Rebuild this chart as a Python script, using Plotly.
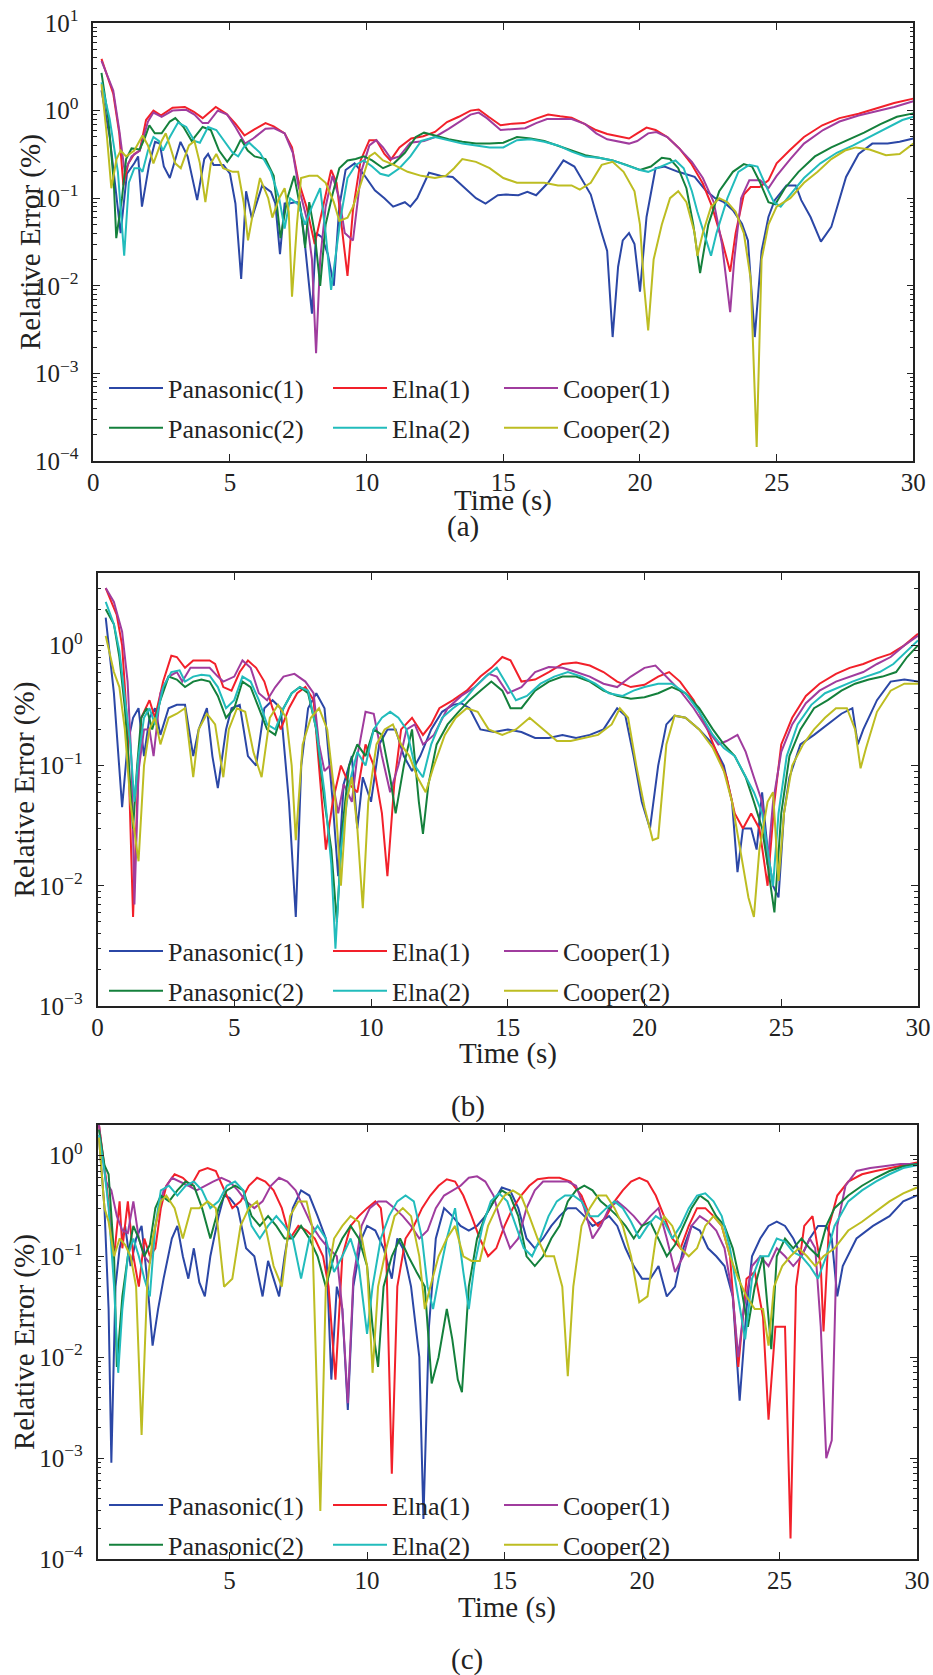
import math
import plotly.graph_objects as go

# ---------------- series data: time (s) and relative error (%) ----------------
# Panel (a)
a_t_pan1 = [0.3,0.6,1.0,1.23,1.5,1.64,1.78,2.04,2.26,2.43,2.58,2.8,3.19,3.45,3.8,4.06,4.2,4.4,4.76,5.0,5.2,5.41,5.59,5.8,6.18,6.5,6.66,6.83,7.0,7.16,7.38,7.55,7.7,8.0,8.15,8.36,8.58,8.8,9.0,9.23,9.56,9.88,10.3,10.65,10.97,11.4,11.6,11.85,12.28,12.7,13.15,13.6,14.0,14.35,14.8,15.1,15.55,15.88,16.2,16.64,17.2,17.6,18.2,18.6,18.8,19.0,19.2,19.37,19.6,19.8,20.0,20.24,20.57,20.9,21.4,22.0,22.4,22.75,23.07,23.4,23.73,23.95,24.2,24.45,24.7,24.93,25.36,25.7,25.9,26.24,26.62,27.0,27.54,28.0,28.5,29.06,29.5,30.0]
a_v_pan1 = [1.7,0.5,0.04,0.19,0.25,0.3,0.08,0.24,0.44,0.42,0.23,0.17,0.44,0.3,0.095,0.28,0.32,0.24,0.24,0.19,0.087,0.012,0.12,0.059,0.14,0.118,0.087,0.023,0.087,0.087,0.09,0.09,0.04,0.0048,0.04,0.036,0.023,0.010,0.08,0.21,0.25,0.19,0.123,0.1,0.08,0.09,0.08,0.1,0.195,0.18,0.175,0.13,0.1,0.087,0.108,0.11,0.108,0.118,0.108,0.15,0.27,0.23,0.11,0.04,0.025,0.0026,0.0165,0.033,0.04,0.030,0.0086,0.061,0.22,0.23,0.2,0.175,0.123,0.1,0.09,0.073,0.051,0.033,0.0026,0.025,0.061,0.095,0.14,0.14,0.095,0.061,0.032,0.047,0.175,0.32,0.42,0.42,0.44,0.48]
a_t_elna1 = [0.3,0.73,0.95,1.1,1.28,1.5,1.7,1.93,2.2,2.47,2.9,3.35,3.68,4.0,4.48,4.87,5.2,5.53,5.85,6.3,6.6,7.0,7.27,7.5,7.8,8.1,8.35,8.7,8.9,9.1,9.3,9.5,9.78,10.1,10.36,10.65,10.87,11.2,11.63,12.07,12.5,12.94,13.37,13.8,14.1,14.46,14.9,15.33,15.77,16.2,16.64,17.08,17.5,17.95,18.39,18.8,19.26,19.6,19.9,20.24,20.57,21.0,21.44,21.87,22.3,22.64,23.0,23.3,23.5,23.8,24.05,24.38,24.7,25.0,25.47,26.0,26.67,27.3,28.0,28.6,29.3,30.0]
a_v_elna1 = [3.9,1.56,0.55,0.14,0.25,0.32,0.35,0.78,1.0,0.88,1.08,1.1,0.97,0.82,1.1,0.92,0.71,0.52,0.6,0.72,0.66,0.55,0.38,0.16,0.08,0.03,0.067,0.21,0.15,0.043,0.013,0.073,0.27,0.46,0.46,0.32,0.27,0.38,0.48,0.51,0.57,0.74,0.85,1.0,1.03,0.85,0.68,0.71,0.72,0.81,0.9,0.86,0.83,0.71,0.6,0.54,0.51,0.48,0.55,0.64,0.6,0.5,0.37,0.25,0.147,0.08,0.033,0.0145,0.04,0.11,0.134,0.134,0.16,0.25,0.35,0.5,0.68,0.82,0.92,1.05,1.22,1.37]
a_t_coop1 = [0.3,0.73,0.95,1.15,1.4,1.7,2.0,2.2,2.5,2.9,3.4,3.7,4.0,4.2,4.55,4.9,5.2,5.55,5.85,6.3,6.6,7.0,7.3,7.5,7.8,8.0,8.15,8.3,8.5,8.75,9.0,9.2,9.5,9.8,10.1,10.35,10.6,10.9,11.2,11.6,12.1,12.5,13.0,13.4,13.8,14.1,14.4,14.9,15.3,15.8,16.2,16.6,17.1,17.5,18.0,18.4,18.8,19.3,19.6,19.9,20.3,20.6,21.0,21.4,21.9,22.3,22.7,23.0,23.3,23.45,23.7,24.0,24.4,24.7,25.0,25.5,26.0,26.7,27.3,28.0,28.6,29.3,30.0]
a_v_coop1 = [3.7,1.7,0.6,0.2,0.3,0.35,0.75,0.95,0.85,1.0,1.02,0.9,0.72,0.72,1.0,0.9,0.65,0.42,0.48,0.62,0.63,0.55,0.33,0.14,0.06,0.02,0.0017,0.02,0.08,0.18,0.1,0.04,0.033,0.2,0.4,0.46,0.38,0.28,0.3,0.43,0.45,0.5,0.62,0.75,0.9,0.95,0.82,0.6,0.61,0.63,0.72,0.8,0.8,0.8,0.7,0.55,0.47,0.44,0.42,0.45,0.55,0.57,0.5,0.38,0.26,0.17,0.09,0.03,0.005,0.02,0.1,0.16,0.16,0.13,0.18,0.28,0.42,0.6,0.75,0.88,0.97,1.1,1.28]
a_t_pan2 = [0.3,0.55,0.75,0.84,1.05,1.2,1.4,1.7,1.9,2.05,2.25,2.5,2.8,3.0,3.3,3.6,4.0,4.3,4.6,4.9,5.2,5.4,5.65,5.9,6.3,6.6,6.85,7.1,7.35,7.6,7.75,7.9,8.1,8.3,8.5,8.75,9.0,9.3,9.6,9.9,10.2,10.6,11.0,11.4,11.8,12.1,12.5,13.0,13.5,14.0,14.5,15.0,15.5,16.0,16.5,17.0,17.5,18.0,18.5,19.0,19.5,20.0,20.4,20.8,21.1,21.4,21.7,21.95,22.2,22.5,22.9,23.4,23.8,24.1,24.4,24.7,24.95,25.3,25.8,26.4,27.0,27.6,28.2,28.8,29.4,30.0]
a_v_pan2 = [2.7,0.8,0.15,0.035,0.1,0.28,0.37,0.36,0.5,0.68,0.55,0.55,0.75,0.82,0.65,0.45,0.65,0.6,0.35,0.26,0.35,0.47,0.35,0.3,0.28,0.18,0.035,0.1,0.18,0.07,0.027,0.09,0.04,0.01,0.05,0.11,0.22,0.27,0.28,0.3,0.27,0.22,0.25,0.33,0.5,0.56,0.52,0.47,0.44,0.42,0.42,0.43,0.5,0.48,0.45,0.4,0.35,0.31,0.29,0.27,0.24,0.21,0.23,0.29,0.28,0.22,0.13,0.05,0.014,0.05,0.12,0.2,0.245,0.23,0.15,0.09,0.085,0.13,0.2,0.3,0.38,0.46,0.56,0.7,0.85,0.93]
a_t_elna2 = [0.3,0.6,0.9,1.13,1.3,1.5,1.7,1.8,2.0,2.2,2.4,2.55,2.8,3.1,3.4,3.7,3.9,4.2,4.5,4.8,5.1,5.3,5.5,5.7,6.1,6.5,6.8,7.0,7.2,7.5,7.75,8.0,8.3,8.5,8.7,9.05,9.3,9.6,9.9,10.2,10.5,10.8,11.2,11.6,12.0,12.5,13.0,13.5,14.0,14.5,15.0,15.5,16.0,16.5,17.0,17.5,18.0,18.5,19.0,19.5,20.0,20.3,20.8,21.3,21.6,21.9,22.1,22.6,22.8,23.2,23.6,24.0,24.3,24.6,24.9,25.15,25.5,26.0,26.6,27.2,27.8,28.4,29.0,29.6,30.0]
a_v_elna2 = [2.1,0.8,0.2,0.022,0.15,0.22,0.22,0.2,0.35,0.5,0.45,0.35,0.5,0.73,0.65,0.45,0.43,0.65,0.6,0.45,0.33,0.3,0.38,0.43,0.33,0.2,0.1,0.045,0.1,0.085,0.05,0.08,0.13,0.04,0.009,0.06,0.17,0.24,0.27,0.23,0.19,0.18,0.22,0.3,0.45,0.5,0.46,0.42,0.4,0.38,0.38,0.46,0.47,0.44,0.4,0.34,0.3,0.29,0.27,0.24,0.21,0.2,0.23,0.27,0.22,0.12,0.07,0.022,0.04,0.1,0.2,0.24,0.23,0.14,0.09,0.08,0.11,0.17,0.25,0.33,0.4,0.5,0.62,0.78,0.85]
a_t_coop2 = [0.3,0.5,0.66,0.85,1.0,1.2,1.5,1.8,2.0,2.2,2.5,2.65,2.8,3.0,3.2,3.5,3.7,3.9,4.1,4.3,4.5,4.75,5.1,5.3,5.5,5.66,5.85,6.1,6.4,6.55,6.8,7.0,7.15,7.27,7.45,7.6,7.9,8.2,8.5,8.8,9.0,9.3,9.5,9.8,10.1,10.3,10.6,11.0,11.5,12.0,12.5,12.9,13.2,13.5,14.0,14.5,15.0,15.5,16.0,16.5,17.0,17.5,17.8,18.2,18.6,19.0,19.4,19.8,20.0,20.15,20.3,20.5,20.8,21.1,21.4,21.7,22.0,22.1,22.3,22.6,22.9,23.2,23.5,23.8,24.05,24.27,24.45,24.7,25.0,25.5,26.0,26.5,27.0,27.5,27.9,28.4,29.0,29.5,30.0]
a_v_coop2 = [2.0,0.5,0.13,0.28,0.35,0.3,0.35,0.52,0.4,0.25,0.45,0.55,0.4,0.25,0.22,0.4,0.45,0.25,0.09,0.25,0.32,0.22,0.2,0.2,0.09,0.033,0.07,0.17,0.1,0.06,0.1,0.13,0.07,0.0075,0.05,0.17,0.18,0.18,0.15,0.09,0.055,0.06,0.08,0.15,0.3,0.33,0.27,0.24,0.2,0.18,0.17,0.18,0.22,0.28,0.26,0.22,0.17,0.15,0.15,0.15,0.14,0.14,0.125,0.15,0.24,0.26,0.2,0.12,0.05,0.01,0.0031,0.02,0.05,0.1,0.12,0.09,0.04,0.022,0.04,0.08,0.1,0.09,0.07,0.04,0.012,0.000145,0.02,0.05,0.08,0.1,0.15,0.2,0.28,0.35,0.38,0.36,0.31,0.32,0.42]

# Panel (b)
b_t_pan1 = [0.3,0.6,0.9,1.1,1.3,1.5,1.7,1.9,2.1,2.3,2.6,2.9,3.2,3.5,3.7,4.0,4.2,4.4,4.7,4.9,5.2,5.5,5.8,6.1,6.4,6.7,7.0,7.25,7.45,7.7,8.0,8.3,8.6,8.8,9.0,9.3,9.5,9.7,10.0,10.3,10.6,10.9,11.2,11.5,11.8,12.2,12.6,13.0,13.3,13.6,14.0,14.5,15.0,15.5,16.0,16.5,17.0,17.5,18.0,18.5,19.0,19.3,19.6,19.9,20.2,20.5,20.8,21.1,21.5,22.0,22.5,22.9,23.2,23.4,23.6,23.9,24.1,24.3,24.5,24.7,24.9,25.1,25.3,25.7,26.2,26.7,27.2,27.6,27.8,28.0,28.5,29.0,29.5,30.0]
b_v_pan1 = [1.7,0.4,0.045,0.15,0.25,0.3,0.12,0.25,0.3,0.18,0.3,0.32,0.32,0.12,0.2,0.3,0.12,0.065,0.2,0.3,0.32,0.12,0.1,0.3,0.35,0.3,0.05,0.0055,0.1,0.3,0.4,0.3,0.05,0.012,0.07,0.12,0.03,0.08,0.05,0.15,0.2,0.2,0.12,0.09,0.12,0.2,0.28,0.32,0.33,0.3,0.2,0.19,0.2,0.19,0.17,0.17,0.18,0.17,0.18,0.2,0.3,0.26,0.12,0.05,0.03,0.1,0.22,0.26,0.25,0.2,0.15,0.1,0.05,0.013,0.03,0.03,0.02,0.06,0.02,0.01,0.008,0.04,0.08,0.15,0.18,0.22,0.27,0.3,0.15,0.2,0.35,0.5,0.52,0.5]
b_t_elna1 = [0.3,0.7,0.9,1.1,1.3,1.45,1.6,1.9,2.1,2.4,2.7,2.9,3.2,3.5,3.8,4.1,4.3,4.6,4.9,5.2,5.5,5.8,6.1,6.4,6.7,7.0,7.3,7.6,7.9,8.1,8.35,8.6,8.9,9.2,9.5,9.8,10.1,10.4,10.6,10.85,11.1,11.5,11.9,12.2,12.5,13.0,13.5,14.0,14.4,14.8,15.1,15.5,16.0,16.5,17.0,17.5,18.0,18.5,19.0,19.5,20.0,20.5,20.9,21.3,21.8,22.3,22.7,23.0,23.3,23.6,23.9,24.2,24.5,24.75,25.0,25.4,25.9,26.4,27.0,27.5,28.0,28.5,29.0,29.5,30.0]
b_v_elna1 = [3.0,1.8,1.0,0.2,0.0055,0.05,0.25,0.35,0.25,0.5,0.82,0.8,0.65,0.75,0.75,0.75,0.7,0.45,0.42,0.6,0.75,0.65,0.5,0.3,0.2,0.3,0.4,0.45,0.35,0.1,0.02,0.05,0.1,0.07,0.06,0.15,0.1,0.04,0.012,0.07,0.2,0.25,0.18,0.22,0.3,0.35,0.42,0.55,0.65,0.8,0.75,0.5,0.52,0.6,0.7,0.72,0.68,0.6,0.5,0.45,0.47,0.55,0.6,0.5,0.35,0.2,0.12,0.08,0.04,0.03,0.04,0.03,0.01,0.05,0.15,0.25,0.38,0.48,0.58,0.65,0.7,0.78,0.85,1.0,1.25]
b_t_coop1 = [0.3,0.6,0.9,1.1,1.25,1.35,1.5,1.7,1.9,2.05,2.3,2.6,2.9,3.1,3.4,3.8,4.1,4.4,4.6,5.0,5.3,5.6,5.9,6.2,6.5,6.8,7.2,7.6,7.9,8.1,8.3,8.5,8.8,9.0,9.3,9.5,9.8,10.1,10.4,10.7,11.0,11.3,11.6,11.9,12.3,12.8,13.3,13.8,14.3,14.6,15.0,15.5,16.0,16.5,17.0,17.5,18.0,18.5,19.0,19.5,20.0,20.4,20.8,21.3,21.8,22.3,22.7,23.0,23.4,23.7,24.0,24.3,24.5,24.7,25.0,25.4,25.9,26.4,27.0,27.5,28.0,28.5,29.0,29.5,30.0]
b_v_coop1 = [3.0,2.3,1.3,0.5,0.1,0.007,0.09,0.2,0.2,0.12,0.4,0.55,0.6,0.5,0.65,0.65,0.65,0.55,0.5,0.55,0.75,0.65,0.4,0.35,0.45,0.55,0.58,0.5,0.4,0.15,0.09,0.1,0.04,0.07,0.05,0.12,0.28,0.27,0.12,0.06,0.1,0.2,0.22,0.15,0.18,0.3,0.38,0.45,0.58,0.55,0.4,0.45,0.6,0.66,0.65,0.6,0.55,0.48,0.45,0.55,0.65,0.68,0.55,0.42,0.3,0.2,0.15,0.16,0.18,0.13,0.08,0.05,0.015,0.05,0.13,0.22,0.33,0.42,0.5,0.55,0.6,0.7,0.8,1.0,1.2]
b_t_pan2 = [0.3,0.6,0.8,1.0,1.15,1.3,1.45,1.6,1.8,2.0,2.3,2.6,2.9,3.2,3.5,3.8,4.1,4.4,4.7,5.0,5.3,5.6,5.9,6.2,6.5,6.8,7.1,7.4,7.7,8.0,8.3,8.55,8.75,8.95,9.2,9.5,9.8,10.1,10.4,10.7,10.9,11.2,11.5,11.75,11.9,12.1,12.4,12.8,13.2,13.6,14.0,14.4,14.8,15.1,15.5,16.0,16.5,17.0,17.5,18.0,18.5,19.0,19.5,20.0,20.5,21.0,21.5,22.0,22.5,22.9,23.3,23.7,24.0,24.3,24.5,24.75,25.0,25.3,25.7,26.2,26.7,27.2,27.7,28.2,28.7,29.2,29.6,30.0]
b_v_pan2 = [2.0,1.5,0.8,0.3,0.1,0.03,0.1,0.25,0.3,0.2,0.35,0.55,0.52,0.45,0.5,0.52,0.5,0.38,0.25,0.3,0.5,0.45,0.3,0.2,0.18,0.3,0.4,0.45,0.4,0.2,0.05,0.02,0.005,0.03,0.1,0.15,0.12,0.2,0.18,0.08,0.04,0.1,0.2,0.05,0.027,0.07,0.15,0.22,0.28,0.35,0.42,0.5,0.42,0.3,0.3,0.42,0.5,0.55,0.55,0.5,0.42,0.38,0.36,0.37,0.4,0.45,0.4,0.3,0.2,0.15,0.12,0.08,0.05,0.03,0.015,0.006,0.04,0.12,0.2,0.3,0.35,0.42,0.48,0.52,0.55,0.6,0.8,1.0]
b_t_elna2 = [0.3,0.6,0.8,1.0,1.2,1.35,1.5,1.7,1.9,2.1,2.4,2.7,3.0,3.2,3.5,3.8,4.1,4.4,4.7,5.0,5.3,5.6,5.9,6.2,6.5,6.8,7.1,7.4,7.7,8.0,8.3,8.55,8.7,8.9,9.2,9.5,9.8,10.1,10.4,10.7,11.0,11.3,11.6,11.9,12.2,12.6,13.0,13.4,13.8,14.2,14.6,14.9,15.3,15.7,16.2,16.7,17.2,17.7,18.2,18.7,19.2,19.6,20.0,20.5,21.0,21.5,22.0,22.5,22.9,23.3,23.7,24.0,24.3,24.5,24.7,24.9,25.2,25.6,26.1,26.6,27.1,27.6,28.1,28.6,29.1,29.6,30.0]
b_v_elna2 = [2.3,1.5,0.9,0.35,0.15,0.05,0.12,0.25,0.3,0.22,0.45,0.6,0.62,0.5,0.55,0.57,0.56,0.45,0.3,0.35,0.55,0.5,0.35,0.22,0.2,0.3,0.4,0.45,0.42,0.2,0.06,0.015,0.003,0.02,0.07,0.13,0.1,0.2,0.25,0.28,0.25,0.2,0.1,0.08,0.15,0.25,0.3,0.35,0.45,0.55,0.65,0.5,0.35,0.38,0.48,0.55,0.6,0.55,0.48,0.4,0.38,0.42,0.45,0.48,0.48,0.4,0.28,0.18,0.14,0.12,0.08,0.06,0.04,0.02,0.01,0.04,0.12,0.22,0.32,0.4,0.45,0.5,0.55,0.6,0.7,0.9,1.1]
b_t_coop2 = [0.3,0.6,0.8,1.0,1.2,1.5,1.7,1.9,2.1,2.3,2.6,2.9,3.2,3.5,3.7,4.0,4.3,4.6,4.8,5.1,5.4,5.7,6.0,6.3,6.6,6.9,7.1,7.25,7.5,7.8,8.1,8.4,8.7,8.9,9.1,9.3,9.5,9.7,9.9,10.2,10.5,10.8,11.1,11.4,11.7,12.0,12.3,12.7,13.1,13.5,13.9,14.3,14.8,15.3,15.8,16.3,16.8,17.3,17.8,18.3,18.8,19.1,19.4,19.7,20.0,20.3,20.5,20.8,21.1,21.5,22.0,22.5,22.9,23.2,23.5,23.8,24.0,24.2,24.5,24.7,24.9,25.1,25.4,25.8,26.2,26.6,27.0,27.4,27.7,27.9,28.1,28.5,29.0,29.5,30.0]
b_v_coop2 = [1.2,0.6,0.45,0.2,0.05,0.016,0.1,0.2,0.25,0.15,0.25,0.27,0.3,0.08,0.2,0.27,0.22,0.08,0.2,0.3,0.28,0.13,0.08,0.25,0.32,0.25,0.1,0.024,0.15,0.25,0.3,0.2,0.05,0.01,0.05,0.08,0.03,0.0065,0.05,0.15,0.2,0.22,0.15,0.12,0.08,0.06,0.1,0.18,0.25,0.3,0.28,0.2,0.18,0.2,0.25,0.2,0.16,0.16,0.17,0.18,0.22,0.3,0.25,0.1,0.045,0.024,0.025,0.15,0.26,0.25,0.2,0.14,0.09,0.05,0.02,0.008,0.0055,0.02,0.05,0.06,0.011,0.04,0.1,0.15,0.2,0.25,0.3,0.3,0.2,0.095,0.14,0.28,0.42,0.48,0.48]

# Panel (c)
c_t_pan1 = [0.25,0.45,0.6,0.7,0.85,1.0,1.2,1.4,1.6,1.8,2.0,2.2,2.4,2.6,2.9,3.1,3.3,3.5,3.7,3.9,4.1,4.3,4.6,4.8,5.0,5.3,5.6,5.9,6.2,6.4,6.6,6.8,7.0,7.3,7.6,7.9,8.2,8.5,8.7,8.9,9.1,9.3,9.5,9.8,10.0,10.3,10.6,10.9,11.1,11.3,11.6,11.9,12.05,12.25,12.5,12.8,13.1,13.4,13.7,14.0,14.3,14.6,14.9,15.2,15.5,15.8,16.1,16.4,16.7,17.0,17.3,17.6,17.9,18.2,18.5,18.8,19.1,19.4,19.7,20.0,20.3,20.6,20.9,21.2,21.5,21.8,22.1,22.4,22.7,23.0,23.3,23.55,23.8,24.0,24.3,24.6,24.9,25.2,25.5,25.8,26.1,26.4,26.7,26.9,27.1,27.3,27.8,28.4,29.0,29.5,30.0]
c_v_pan1 = [1.5,0.3,0.03,0.0009,0.05,0.12,0.2,0.08,0.15,0.2,0.06,0.013,0.03,0.06,0.15,0.2,0.1,0.06,0.12,0.055,0.04,0.1,0.25,0.4,0.38,0.3,0.12,0.1,0.04,0.09,0.06,0.04,0.1,0.3,0.45,0.4,0.25,0.15,0.006,0.05,0.03,0.003,0.05,0.15,0.2,0.18,0.12,0.06,0.15,0.12,0.05,0.01,0.00025,0.02,0.15,0.3,0.25,0.2,0.18,0.2,0.25,0.35,0.48,0.45,0.3,0.15,0.12,0.15,0.2,0.25,0.3,0.3,0.25,0.2,0.22,0.25,0.2,0.12,0.08,0.06,0.06,0.08,0.04,0.05,0.12,0.2,0.18,0.12,0.1,0.08,0.04,0.0037,0.03,0.1,0.15,0.2,0.22,0.2,0.15,0.1,0.15,0.2,0.2,0.15,0.04,0.08,0.15,0.2,0.25,0.35,0.4]
c_t_elna1 = [0.25,0.5,0.8,1.0,1.1,1.3,1.5,1.7,1.9,2.1,2.3,2.5,2.7,3.0,3.3,3.6,3.9,4.2,4.5,4.8,5.1,5.4,5.7,6.0,6.3,6.6,6.9,7.2,7.5,7.8,8.1,8.4,8.6,8.85,9.1,9.4,9.7,10.0,10.3,10.5,10.7,10.9,11.1,11.4,11.7,12.0,12.3,12.6,12.9,13.2,13.5,13.8,14.1,14.4,14.7,15.0,15.3,15.6,15.9,16.2,16.6,17.0,17.4,17.8,18.1,18.4,18.7,19.0,19.3,19.6,19.9,20.2,20.5,20.8,21.1,21.4,21.7,22.0,22.3,22.6,22.9,23.2,23.5,23.8,24.1,24.4,24.6,24.85,25.05,25.2,25.4,25.6,25.9,26.2,26.5,26.6,26.8,27.1,27.5,28.0,28.5,29.0,29.5,30.0]
c_v_elna1 = [2.0,0.6,0.1,0.35,0.12,0.35,0.1,0.05,0.15,0.1,0.12,0.3,0.5,0.65,0.6,0.5,0.7,0.75,0.7,0.45,0.3,0.35,0.5,0.6,0.55,0.45,0.3,0.15,0.2,0.18,0.15,0.1,0.05,0.006,0.1,0.2,0.25,0.3,0.35,0.3,0.1,0.0007,0.05,0.15,0.2,0.3,0.4,0.5,0.58,0.55,0.4,0.25,0.15,0.1,0.12,0.2,0.3,0.4,0.5,0.58,0.6,0.6,0.55,0.4,0.25,0.2,0.25,0.35,0.45,0.55,0.6,0.55,0.4,0.25,0.15,0.12,0.2,0.3,0.3,0.25,0.2,0.1,0.008,0.06,0.07,0.025,0.0024,0.02,0.02,0.02,0.00016,0.05,0.2,0.25,0.08,0.018,0.2,0.4,0.55,0.65,0.7,0.75,0.8,0.85]
c_t_coop1 = [0.25,0.5,0.7,0.9,1.1,1.3,1.5,1.7,1.9,2.1,2.3,2.6,2.9,3.2,3.5,3.8,4.1,4.4,4.7,5.0,5.3,5.6,5.9,6.2,6.5,6.8,7.1,7.4,7.7,8.0,8.3,8.6,8.9,9.1,9.3,9.5,9.8,10.1,10.4,10.7,11.0,11.3,11.6,11.9,12.2,12.5,12.8,13.1,13.4,13.7,14.0,14.3,14.6,14.9,15.2,15.5,15.8,16.1,16.4,16.7,17.0,17.3,17.6,17.9,18.2,18.5,18.8,19.1,19.4,19.7,20.0,20.3,20.6,20.9,21.2,21.5,21.8,22.1,22.4,22.7,23.0,23.3,23.5,23.7,24.0,24.3,24.6,24.9,25.2,25.5,25.8,26.1,26.3,26.5,26.7,26.9,27.1,27.4,27.8,28.3,28.8,29.4,30.0]
c_v_coop1 = [2.0,0.55,0.45,0.25,0.18,0.17,0.35,0.15,0.1,0.085,0.2,0.45,0.6,0.55,0.5,0.45,0.5,0.55,0.6,0.55,0.45,0.35,0.3,0.35,0.5,0.6,0.55,0.45,0.3,0.2,0.15,0.12,0.1,0.03,0.0035,0.06,0.2,0.3,0.35,0.35,0.3,0.25,0.2,0.15,0.18,0.3,0.4,0.45,0.5,0.6,0.62,0.55,0.4,0.2,0.12,0.15,0.3,0.45,0.55,0.55,0.55,0.55,0.5,0.3,0.15,0.2,0.3,0.35,0.3,0.25,0.2,0.25,0.3,0.15,0.07,0.1,0.2,0.25,0.22,0.18,0.12,0.04,0.01,0.03,0.08,0.1,0.08,0.12,0.1,0.08,0.1,0.15,0.12,0.02,0.001,0.0015,0.2,0.5,0.7,0.75,0.78,0.82,0.82]
c_t_pan2 = [0.25,0.45,0.6,0.8,0.9,1.1,1.3,1.5,1.7,1.9,2.1,2.3,2.5,2.8,3.1,3.4,3.7,4.0,4.3,4.6,4.9,5.2,5.5,5.8,6.1,6.4,6.7,7.0,7.3,7.6,7.9,8.2,8.5,8.8,9.1,9.4,9.7,10.0,10.2,10.4,10.6,10.9,11.2,11.5,11.8,12.1,12.35,12.6,12.9,13.1,13.3,13.45,13.7,14.0,14.3,14.6,14.9,15.2,15.5,15.8,16.1,16.4,16.7,17.0,17.3,17.6,17.9,18.2,18.5,18.8,19.1,19.4,19.7,20.0,20.3,20.6,20.9,21.2,21.5,21.8,22.1,22.4,22.7,23.0,23.3,23.6,23.85,24.1,24.4,24.7,24.9,25.2,25.5,25.8,26.1,26.4,26.7,27.0,27.5,28.0,28.5,29.0,29.5,30.0]
c_v_pan2 = [1.8,0.8,0.65,0.1,0.008,0.04,0.1,0.2,0.15,0.1,0.13,0.3,0.4,0.35,0.45,0.55,0.5,0.3,0.15,0.3,0.45,0.5,0.45,0.25,0.2,0.25,0.2,0.15,0.15,0.2,0.15,0.1,0.05,0.1,0.15,0.2,0.15,0.08,0.02,0.008,0.05,0.1,0.15,0.1,0.07,0.05,0.0055,0.01,0.03,0.015,0.006,0.0045,0.05,0.15,0.25,0.35,0.45,0.4,0.25,0.1,0.08,0.1,0.15,0.2,0.35,0.45,0.5,0.45,0.35,0.3,0.25,0.2,0.15,0.2,0.22,0.15,0.1,0.13,0.2,0.3,0.4,0.35,0.25,0.2,0.12,0.05,0.02,0.05,0.1,0.012,0.1,0.15,0.12,0.15,0.12,0.1,0.2,0.3,0.4,0.5,0.6,0.7,0.78,0.82]
c_t_elna2 = [0.25,0.45,0.6,0.8,0.95,1.1,1.3,1.5,1.7,1.9,2.1,2.3,2.5,2.8,3.1,3.4,3.7,4.0,4.3,4.6,4.9,5.2,5.5,5.8,6.1,6.4,6.7,7.0,7.3,7.6,7.9,8.2,8.5,8.8,9.1,9.4,9.7,10.0,10.2,10.5,10.8,11.1,11.4,11.7,12.0,12.2,12.4,12.6,12.9,13.2,13.5,13.7,13.9,14.2,14.5,14.8,15.1,15.4,15.7,16.0,16.3,16.6,16.9,17.2,17.5,17.8,18.1,18.4,18.7,19.0,19.3,19.6,19.9,20.2,20.5,20.8,21.1,21.4,21.7,22.0,22.3,22.6,22.9,23.2,23.5,23.75,24.0,24.3,24.6,24.9,25.2,25.5,25.8,26.1,26.4,26.7,27.0,27.5,28.0,28.5,29.0,29.5,30.0]
c_v_elna2 = [1.6,0.7,0.3,0.05,0.007,0.03,0.1,0.15,0.1,0.06,0.04,0.2,0.45,0.5,0.4,0.5,0.55,0.45,0.3,0.35,0.5,0.55,0.45,0.2,0.15,0.2,0.25,0.2,0.15,0.06,0.15,0.2,0.15,0.07,0.1,0.15,0.08,0.017,0.05,0.15,0.25,0.35,0.4,0.35,0.15,0.05,0.03,0.06,0.15,0.3,0.07,0.03,0.08,0.2,0.35,0.42,0.35,0.2,0.12,0.1,0.15,0.25,0.35,0.4,0.4,0.35,0.25,0.25,0.3,0.35,0.3,0.22,0.15,0.2,0.25,0.22,0.15,0.2,0.3,0.4,0.42,0.35,0.25,0.12,0.04,0.015,0.06,0.1,0.1,0.15,0.14,0.11,0.1,0.08,0.06,0.1,0.2,0.35,0.45,0.55,0.65,0.75,0.8]
c_t_coop2 = [0.25,0.45,0.6,0.8,1.0,1.2,1.4,1.6,1.8,2.0,2.2,2.5,2.7,3.0,3.3,3.6,3.9,4.2,4.5,4.8,5.1,5.4,5.7,6.0,6.3,6.6,6.9,7.2,7.5,7.8,8.0,8.15,8.3,8.5,8.8,9.1,9.4,9.7,10.0,10.2,10.4,10.7,11.0,11.3,11.6,11.9,12.1,12.3,12.6,12.9,13.2,13.5,13.8,14.1,14.4,14.7,15.0,15.3,15.6,15.9,16.2,16.5,16.8,17.1,17.3,17.5,17.8,18.1,18.4,18.7,19.0,19.3,19.6,19.9,20.2,20.5,20.8,21.1,21.4,21.7,22.0,22.3,22.6,22.9,23.2,23.5,23.8,24.1,24.4,24.6,24.8,25.1,25.4,25.7,26.0,26.3,26.6,27.0,27.5,28.0,28.5,29.0,29.5,30.0]
c_v_coop2 = [1.5,0.3,0.22,0.1,0.15,0.13,0.1,0.05,0.0017,0.05,0.15,0.35,0.4,0.3,0.15,0.3,0.3,0.35,0.3,0.05,0.06,0.2,0.3,0.35,0.2,0.08,0.05,0.25,0.35,0.35,0.2,0.01,0.0003,0.05,0.15,0.2,0.25,0.22,0.08,0.007,0.05,0.12,0.25,0.3,0.25,0.1,0.03,0.05,0.1,0.15,0.2,0.1,0.09,0.09,0.2,0.3,0.4,0.45,0.4,0.25,0.15,0.1,0.1,0.05,0.0065,0.05,0.2,0.3,0.4,0.4,0.3,0.2,0.1,0.035,0.04,0.15,0.25,0.2,0.12,0.1,0.12,0.2,0.25,0.2,0.1,0.06,0.04,0.03,0.03,0.013,0.05,0.08,0.1,0.12,0.1,0.08,0.1,0.12,0.18,0.22,0.28,0.35,0.42,0.48]

# ---------------- labels, colours ----------------
series_names = ["Panasonic(1)", "Elna(1)", "Cooper(1)", "Panasonic(2)", "Elna(2)", "Cooper(2)"]
series_colors = ["#2b47a6", "#f2202a", "#a03c9e", "#14803c", "#22bcbc", "#bdbd22"]
panel_labels = ["(a)", "(b)", "(c)"]
x_title = "Time (s)"
y_title = "Relative Error (%)"
x_tickvals = [0, 5, 10, 15, 20, 25, 30]

panel_series = [
    [(a_t_pan1, a_v_pan1), (a_t_elna1, a_v_elna1), (a_t_coop1, a_v_coop1),
     (a_t_pan2, a_v_pan2), (a_t_elna2, a_v_elna2), (a_t_coop2, a_v_coop2)],
    [(b_t_pan1, b_v_pan1), (b_t_elna1, b_v_elna1), (b_t_coop1, b_v_coop1),
     (b_t_pan2, b_v_pan2), (b_t_elna2, b_v_elna2), (b_t_coop2, b_v_coop2)],
    [(c_t_pan1, c_v_pan1), (c_t_elna1, c_v_elna1), (c_t_coop1, c_v_coop1),
     (c_t_pan2, c_v_pan2), (c_t_elna2, c_v_elna2), (c_t_coop2, c_v_coop2)],
]

# ---------------- page geometry (pixels) ----------------
W, H = 933, 1675
FONT = "Liberation Serif, Times New Roman, Times, serif"
INK = "#222222"

# plot boxes: x0, x1, y_top, y_bottom ; axis ranges
panels = [
    dict(box=(93.3, 913.3, 23, 461), xr=(0, 30), yexp=(-4, 1), ytop=10.0,
         leg_y=388, xt_y=501, lab_y=526, yt_x=30),
    dict(box=(97.5, 918, 573, 1006), xr=(0, 30), yexp=(-3, 0), ytop=4.0,
         leg_y=951, xt_y=1053, lab_y=1106, yt_x=24),
    dict(box=(97.6, 917, 1125, 1559), xr=(0.2, 30), yexp=(-4, 0), ytop=2.0,
         leg_y=1505, xt_y=1607, lab_y=1659, yt_x=24),
]
legend_text_x = [171, 395, 566]
LEG_ITEM_W = 54


def px(x):
    return x / W


def py(y):
    return 1 - y / H


def exp_label(e):
    sign = "\u2212" if e < 0 else ""
    return "10<sup>%s%d</sup>" % (sign, abs(e))


def legend_id(p, col):
    i = p * 3 + col + 1
    return "legend" if i == 1 else "legend%d" % i


fig = go.Figure()
layout = dict(
    width=W, height=H,
    margin=dict(l=0, r=0, t=0, b=0, pad=0, autoexpand=False),
    paper_bgcolor="white", plot_bgcolor="white",
    font=dict(family=FONT, size=25, color=INK),
    annotations=[],
)

for p, cfg in enumerate(panels):
    n = p + 1
    xa = "xaxis" if n == 1 else "xaxis%d" % n
    ya = "yaxis" if n == 1 else "yaxis%d" % n
    xref = "x" if n == 1 else "x%d" % n
    yref = "y" if n == 1 else "y%d" % n
    x0, x1, yt, yb = cfg["box"]
    lo, hi = cfg["yexp"]
    major = [10.0 ** e for e in range(lo, hi + 1)]
    major_txt = [exp_label(e) for e in range(lo, hi + 1)]
    minor = [m * 10.0 ** e for e in range(lo, hi + 1) for m in range(2, 10)
             if m * 10.0 ** e < cfg["ytop"] * 1.001]

    axis_common = dict(
        showline=True, linecolor=INK, linewidth=1.6, mirror="allticks",
        ticks="inside", ticklen=7, tickwidth=1.2, tickcolor=INK,
        showgrid=False, zeroline=False, automargin=False,
        tickfont=dict(family=FONT, size=25, color=INK),
    )
    xt = [v for v in x_tickvals if cfg["xr"][0] <= v <= cfg["xr"][1]]
    layout[xa] = dict(axis_common, domain=[px(x0), px(x1)], range=list(cfg["xr"]),
                      tickmode="array", tickvals=xt, ticktext=[str(v) for v in xt],
                      ticklabelstandoff=-2, anchor=yref)
    layout[ya] = dict(axis_common, type="log", domain=[py(yb), py(yt)],
                      range=[lo, math.log10(cfg["ytop"])],
                      tickmode="array", tickvals=major, ticktext=major_txt,
                      ticklabelstandoff=8,
                      minor=dict(tickmode="array", tickvals=minor, ticks="inside",
                                 ticklen=4, tickwidth=1, tickcolor=INK),
                      anchor=xref)

    # one legend per column, two entries stacked
    for col in range(3):
        layout[legend_id(p, col)] = dict(
            x=px(legend_text_x[col] - LEG_ITEM_W - 13), y=py(cfg["leg_y"] - 23.4),
            xanchor="left", yanchor="top", orientation="v",
            bgcolor="rgba(0,0,0,0)", borderwidth=0,
            font=dict(family=FONT, size=26, color=INK),
            tracegroupgap=3, itemwidth=LEG_ITEM_W,
        )

    for k, (t, v) in enumerate(panel_series[p]):
        fig.add_trace(go.Scatter(
            x=t, y=v, mode="lines", name=series_names[k],
            line=dict(color=series_colors[k], width=2),
            xaxis=xref, yaxis=yref, legend=legend_id(p, k % 3),
            legendgroup="p%d_s%d" % (p, k), showlegend=True,
        ))

    layout["annotations"] += [
        dict(text=x_title, x=px((x0 + x1) / 2), y=py(cfg["xt_y"]), xref="paper", yref="paper",
             showarrow=False, xanchor="center", yanchor="middle",
             font=dict(family=FONT, size=29, color=INK)),
        dict(text=y_title, x=px(cfg["yt_x"]), y=py((yt + yb) / 2), xref="paper", yref="paper",
             showarrow=False, xanchor="center", yanchor="middle", textangle=-90,
             font=dict(family=FONT, size=29, color=INK)),
        dict(text=panel_labels[p], x=px((x0 + x1) / 2 - 40), y=py(cfg["lab_y"]),
             xref="paper", yref="paper", showarrow=False, xanchor="center", yanchor="middle",
             font=dict(family=FONT, size=29, color=INK)),
    ]

fig.update_layout(**layout)
fig.write_html("out.html")
